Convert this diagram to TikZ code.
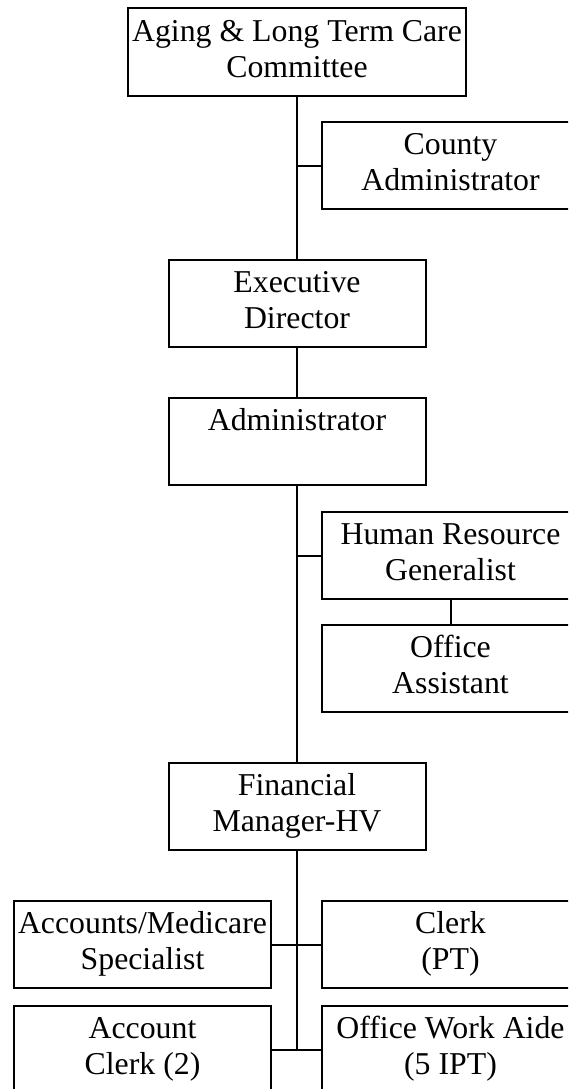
\documentclass[tikz,border=0pt]{standalone}
\usepackage{fontspec}
\setmainfont{Liberation Serif}
\newcommand{\twol}[2]{\strut #1\\#2\strut}
\begin{document}
\begin{tikzpicture}[x=1pt,y=-1pt,
  orgbox/.style={draw=black, line width=2pt, rectangle, inner sep=0pt,
    minimum width=257pt, minimum height=87pt, align=center,
    font=\fontsize{31.8}{36}\selectfont},
  conn/.style={draw=black, line width=2pt}]
\path[use as bounding box, clip] (0,0) rectangle (568,1089);
\fill[white] (0,0) rectangle (568,1089);
\node[orgbox, minimum width=338pt, minimum height=88pt] (top) at (297,52) {\twol{Aging \& Long Term Care}{Committee}};
\node[orgbox] (county) at (450.5,165.5) {\twol{County}{Administrator}};
\node[orgbox] (exec) at (297,303.5) {\twol{Executive}{Director}};
\node[orgbox] (admin) at (297,441.5) {\twol{Administrator}{~}};
\node[orgbox] (hr) at (450.5,555.5) {\twol{Human Resource}{Generalist}};
\node[orgbox] (oa) at (450.5,668.5) {\twol{Office}{Assistant}};
\node[orgbox] (fin) at (297,806.5) {\twol{Financial}{Manager-HV}};
\node[orgbox] (am) at (142.5,944.5) {\twol{Accounts/Medicare}{Specialist}};
\node[orgbox] (clerk) at (450.5,944.5) {\twol{Clerk}{(PT)}};
\node[orgbox] (ac) at (142.5,1049.5) {\twol{Account}{Clerk (2)}};
\node[orgbox] (owa) at (450.5,1049.5) {\twol{Office Work Aide}{(5 IPT)}};
\coordinate (endpt) at (fin.south |- ac.east);
\draw[conn] (top.south) -- (exec.north);
\draw[conn] (county.west) -- (county.west -| top.south);
\draw[conn] (exec.south) -- (admin.north);
\draw[conn] (admin.south) -- (fin.north);
\draw[conn] (hr.west) -- (hr.west -| admin.south);
\draw[conn] (hr.south) -- (oa.north);
\draw[conn] (fin.south) -- (endpt);
\draw[conn] (am.east) -- (clerk.west);
\draw[conn] (ac.east) -- (owa.west);
\end{tikzpicture}
\end{document}
